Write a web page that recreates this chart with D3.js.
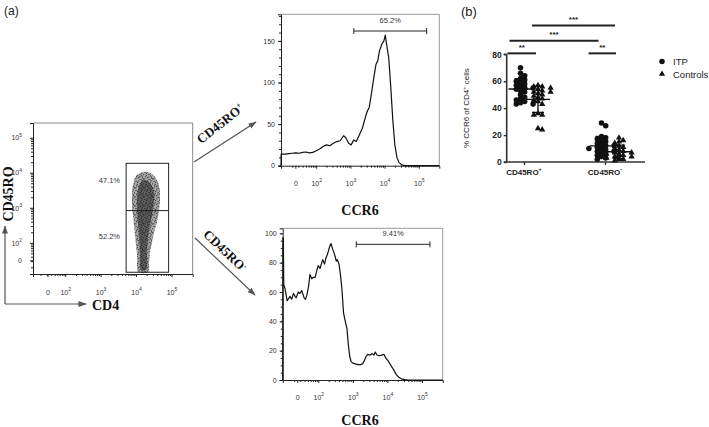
<!DOCTYPE html>
<html><head><meta charset="utf-8">
<script src="https://cdn.jsdelivr.net/npm/d3@7"></script>
<style>body{margin:0;background:#fff}svg{display:block}</style>
</head><body>
<svg id="c" width="709" height="427"></svg>
<script>
// ================= DATA =================
// flow axes are in "display decades": 2 = 10^2, 3 = 10^3 ...
const ccr6Domain = [0.97, 5.6];
const histTickVals = [1.39, 2, 3, 4, 5];
const histTickLabels = ["0", "10^2", "10^3", "10^4", "10^5"];
const dotXDomain = [1.09, 5.6];
const dotYDomain = [1.11, 5.42];
const dotTickVals = [1.5, 2, 3, 4, 5];
const dotTickLabels = ["0", "10^2", "10^3", "10^4", "10^5"];
const posHistYTicks = [0, 50, 100, 150];
const negHistYTicks = [0, 20, 40, 60, 80, 100];

// CCR6 histogram, CD45RO+ cells  [decade position, count]
const ccr6Pos = [[0.97,0],[0.975,14],[1.1,14],[1.2,14.5],[1.3,15],[1.4,15.5],[1.5,15],[1.6,16],[1.7,16.5],[1.8,15.5],[1.9,16],[2.0,18],[2.1,20],[2.2,23],[2.3,25],[2.4,24],[2.5,27],[2.6,29],[2.7,30],[2.8,36],[2.86,34],[2.95,27],[3.02,25],[3.1,31],[3.17,29],[3.25,36],[3.35,45],[3.45,60],[3.5,66],[3.55,70],[3.62,88],[3.7,110],[3.75,122],[3.8,126],[3.85,138],[3.92,146],[3.98,150],[4.02,157],[4.07,143],[4.12,130],[4.18,95],[4.24,55],[4.3,25],[4.36,10],[4.42,4],[4.5,1],[4.6,0],[5.6,0]];
// CCR6 histogram, CD45RO- cells
const ccr6Neg = [[0.97,0],[0.975,97],[0.99,96],[1.0,65],[1.04,62],[1.1,54],[1.18,57],[1.23,55],[1.28,59],[1.33,57],[1.36,56],[1.42,60],[1.47,59],[1.52,61],[1.59,56],[1.63,55],[1.67,58],[1.72,64],[1.76,72],[1.81,69],[1.86,70],[1.91,70],[1.96,75],[2.0,78],[2.05,76],[2.1,80],[2.13,82],[2.18,79],[2.22,83],[2.27,86],[2.33,91],[2.37,93],[2.42,89],[2.49,84],[2.52,81],[2.55,82],[2.6,79],[2.64,72],[2.68,63],[2.73,46],[2.78,40],[2.83,35],[2.87,24],[2.91,16],[2.95,12.5],[3.0,11.5],[3.07,11],[3.15,10.5],[3.22,10.5],[3.28,11],[3.33,13],[3.38,16],[3.43,17.5],[3.5,17],[3.56,18],[3.61,17],[3.65,19],[3.7,17],[3.76,16.5],[3.83,17],[3.9,17.5],[3.95,15],[4.02,13],[4.1,10],[4.18,7],[4.25,4],[4.32,2],[4.4,0.8],[4.5,0.3],[4.6,0],[5.6,0]];

// CD4 x CD45RO event cloud outline and dense core [CD4, CD45RO]
const cloudOuter = [[4.197,4.022],[4.0,3.908],[3.915,3.65],[3.887,3.365],[3.887,3.08],[3.915,2.794],[3.943,2.509],[3.97,2.223],[3.999,1.938],[4.028,1.652],[4.028,1.367],[4.056,1.167],[4.339,1.167],[4.367,1.453],[4.395,1.738],[4.452,2.024],[4.508,2.309],[4.593,2.594],[4.649,2.937],[4.678,3.28],[4.649,3.622],[4.536,3.879],[4.395,3.993]];
const cloudCore = [[4.197,3.793],[4.056,3.508],[4.028,2.937],[4.084,2.223],[4.113,1.652],[4.141,1.224],[4.282,1.224],[4.31,1.795],[4.367,2.366],[4.48,2.937],[4.508,3.451],[4.367,3.736]];
const cd4Gate = [3.72, 4.92, 1.16, 4.27];   // x0, x1, y0, y1
const cd45Split = 2.92;
const cd4GateLabels = ["47.1%", "52.2%"];
const ccr6Gate = [3.1, 5.23];
const ccr6GateLabels = ["65.2%", "9.41%"];

// Panel (b)
const groups = ["CD45RO+", "CD45RO-"];
const seriesNames = ["ITP", "Controls"];
const itpPos  = [70,66,64,62,61,60,59,58,57,56,55,55,54,53,52,50,48,47,46,45,44,43,43];
const ctrlPos = [57,56,56,55,55,54,53,52,52,51,50,49,48,47,46,45,43,36,35,35,25,24];
const itpNeg  = [29,27,19,18,17,16,15,14,13,12,12,11,10,10,9,8,8,7,6,5,4,3,2];
const ctrlNeg = [18,16,15,14,12,11,10,9,8,7,7,6,6,5,5,4,4,3,3,2,2,1];
const bYTicks = [0, 20, 40, 60, 80];
const sigLabels = ["***", "***", "**", "**"];

// ================= DRAW =================
const svg = d3.select("#c");
const SANS = "'Liberation Sans', Arial, sans-serif";
const SERIF = "'Liberation Serif', 'Times New Roman', serif";

const defs = svg.append("defs");
defs.append("marker").attr("id","arr").attr("viewBox","0 0 10 10").attr("refX",9).attr("refY",5)
  .attr("markerWidth",7).attr("markerHeight",7).attr("orient","auto")
  .append("path").attr("d","M0,1.5L10,5L0,8.5Z").attr("fill","#555");
const pat = defs.append("pattern").attr("id","speck").attr("patternUnits","userSpaceOnUse")
  .attr("width",9).attr("height",9);
[[0.5,1],[3.2,0.4],[6.1,1.7],[8.2,3.3],[1.8,3.9],[4.6,3.1],[7.0,5.6],[2.9,6.2],[0.3,7.4],[5.4,7.9],[8.5,8.3],[3.9,8.6],[6.6,0.2],[1.1,5.3],[4.3,5.4],[2.2,1.9],[7.6,7.0],[5.8,4.4]]
  .forEach(p => pat.append("rect").attr("x",p[0]).attr("y",p[1]).attr("width",1).attr("height",1).attr("fill","#222"));

function supText(sel, label, fs) {
  sel.each(function(d, i) {
    const t = d3.select(this);
    const lab = typeof label === "function" ? label(d, i) : label;
    t.text(null);
    const m = lab.split("^");
    t.append("tspan").text(m[0]);
    if (m[1]) t.append("tspan").attr("font-size", fs * 0.72).attr("dy", -fs * 0.55).text(m[1]);
  });
}
function styleAxis(g, fs) {
  g.select(".domain").attr("stroke", "#222").attr("stroke-width", 1);
  g.selectAll(".tick line").attr("stroke", "#222");
  g.selectAll("text").attr("font-family", SANS).attr("font-size", fs).attr("fill", "#333");
}
function minorLog(lo, hi) {
  const v = [];
  for (let d = 1; d <= 4; d++) for (let k = 2; k <= 9; k++) {
    const p = d + Math.log10(k);
    if (p > lo && p < hi) v.push(p);
  }
  return v;
}

// ---- labels (a) (b)
svg.append("text").attr("x", 4).attr("y", 15).attr("font-family", SANS).attr("font-size", 12).attr("fill", "#222").text("(a)");
svg.append("text").attr("x", 461).attr("y", 16).attr("font-family", SANS).attr("font-size", 13).attr("fill", "#222").text("(b)");

// ---- dot plot
(function() {
  const L = 33, R = 192.7, T = 123, B = 274;
  const x = d3.scaleLinear().domain(dotXDomain).range([L, R]);
  const y = d3.scaleLinear().domain(dotYDomain).range([B, T]);
  svg.append("path").attr("d", `M${L},${T}H${R}V${B}`).attr("stroke", "#888").attr("fill", "none");
  const line = d3.line().x(d => x(d[0])).y(d => y(d[1])).curve(d3.curveCatmullRomClosed.alpha(0.5));
  svg.append("path").attr("d", line(cloudOuter)).attr("fill", "#8a8a8a").attr("opacity", 0.75);
  svg.append("path").attr("d", line(cloudOuter)).attr("fill", "url(#speck)");
  svg.append("path").attr("d", line(cloudCore)).attr("fill", "#4f4f4f").attr("opacity", 0.85);
  svg.append("path").attr("d", line(cloudCore)).attr("fill", "url(#speck)");

  const gy = svg.append("g").attr("transform", `translate(${L},0)`)
    .call(d3.axisLeft(y).tickValues(dotTickVals).tickSize(3).tickPadding(8));
  styleAxis(gy, 7);
  supText(gy.selectAll(".tick text"), (d, i) => dotTickLabels[i], 7);
  const gym = svg.append("g").attr("transform", `translate(${L},0)`)
    .call(d3.axisLeft(y).tickValues(minorLog(dotYDomain[0], dotYDomain[1])).tickSize(2).tickFormat(""));
  styleAxis(gym, 7); gym.select(".domain").remove();

  const gx = svg.append("g").attr("transform", `translate(0,${B})`)
    .call(d3.axisBottom(x).tickValues(dotTickVals).tickSize(3).tickPadding(13));
  styleAxis(gx, 7);
  supText(gx.selectAll(".tick text"), (d, i) => dotTickLabels[i], 7);
  const gxm = svg.append("g").attr("transform", `translate(0,${B})`)
    .call(d3.axisBottom(x).tickValues(minorLog(dotXDomain[0], dotXDomain[1])).tickSize(2).tickFormat(""));
  styleAxis(gxm, 7); gxm.select(".domain").remove();

  // gate
  svg.append("rect").attr("x", x(cd4Gate[0])).attr("y", y(cd4Gate[3]))
    .attr("width", x(cd4Gate[1]) - x(cd4Gate[0])).attr("height", y(cd4Gate[2]) - y(cd4Gate[3]))
    .attr("fill", "none").attr("stroke", "#222").attr("stroke-width", 1);
  svg.append("line").attr("x1", x(cd4Gate[0])).attr("x2", x(cd4Gate[1]))
    .attr("y1", y(cd45Split)).attr("y2", y(cd45Split)).attr("stroke", "#222").attr("stroke-width", 1);
  svg.append("text").attr("x", 120).attr("y", 182.5)
    .attr("text-anchor", "end").attr("font-family", SANS).attr("font-size", 7.5).attr("fill", "#333").text(cd4GateLabels[0]);
  svg.append("text").attr("x", 120).attr("y", 238.5)
    .attr("text-anchor", "end").attr("font-family", SANS).attr("font-size", 7.5).attr("fill", "#333").text(cd4GateLabels[1]);

  // axis names with arrows
  svg.append("text").attr("transform", "translate(13,194) rotate(-90)").attr("text-anchor", "middle")
    .attr("font-family", SERIF).attr("font-weight", "bold").attr("font-size", 14).attr("fill", "#111").text("CD45RO");
  svg.append("path").attr("d", "M5,304V226").attr("stroke", "#555").attr("stroke-width", 1.2).attr("marker-end", "url(#arr)");
  svg.append("path").attr("d", "M5,304H86").attr("stroke", "#555").attr("stroke-width", 1.2).attr("marker-end", "url(#arr)");
  svg.append("text").attr("x", 92).attr("y", 310).attr("font-family", SERIF).attr("font-weight", "bold")
    .attr("font-size", 14).attr("fill", "#111").text("CD4");
})();

// ---- diagonal arrows
function diagLabel(cx, cy, ang, sup) {
  const t = svg.append("text").attr("transform", `translate(${cx},${cy}) rotate(${ang})`).attr("text-anchor", "middle")
    .attr("font-family", SERIF).attr("font-weight", "bold").attr("font-size", 13).attr("fill", "#111");
  t.append("tspan").text("CD45RO");
  t.append("tspan").attr("font-size", 8).attr("dy", -5).text(sup);
}
svg.append("path").attr("d", "M194,162L256,122").attr("stroke", "#555").attr("stroke-width", 1.2).attr("marker-end", "url(#arr)");
diagLabel(223, 127, -38, "+");
svg.append("path").attr("d", "M195,238L255,295").attr("stroke", "#555").attr("stroke-width", 1.2).attr("marker-end", "url(#arr)");
diagLabel(222, 254, 44, "-");

// ---- histograms
function hist(cfg) {
  const x = d3.scaleLinear().domain(ccr6Domain).range([cfg.L, cfg.R]);
  const y = d3.scaleLinear().domain([0, cfg.ymax]).range([cfg.B, cfg.T]);
  svg.append("path").attr("d", `M${cfg.L},${cfg.T}H${cfg.R}V${cfg.B}`).attr("stroke", "#999").attr("fill", "none");
  const gy = svg.append("g").attr("transform", `translate(${cfg.L},0)`)
    .call(d3.axisLeft(y).tickValues(cfg.yTicks).tickSize(3).tickPadding(3));
  styleAxis(gy, 7);
  const gym = svg.append("g").attr("transform", `translate(${cfg.L},0)`)
    .call(d3.axisLeft(y).tickValues(d3.range(0, cfg.ymax, cfg.minor)).tickSize(2).tickFormat(""));
  styleAxis(gym, 7); gym.select(".domain").remove();
  const gx = svg.append("g").attr("transform", `translate(0,${cfg.B})`)
    .call(d3.axisBottom(x).tickValues(histTickVals).tickSize(3).tickPadding(12));
  styleAxis(gx, 7);
  supText(gx.selectAll(".tick text"), (d, i) => histTickLabels[i], 7);
  const gxm = svg.append("g").attr("transform", `translate(0,${cfg.B})`)
    .call(d3.axisBottom(x).tickValues(minorLog(ccr6Domain[0], ccr6Domain[1])).tickSize(2).tickFormat(""));
  styleAxis(gxm, 7); gxm.select(".domain").remove();

  svg.append("path").attr("d", d3.line().x(d => x(d[0])).y(d => y(d[1]))(cfg.data))
    .attr("fill", "none").attr("stroke", "#111").attr("stroke-width", 1.2).attr("stroke-linejoin", "round");
  const gy0 = cfg.gateY;
  const g0 = x(ccr6Gate[0]), g1 = x(ccr6Gate[1]);
  svg.append("path").attr("d", `M${g0},${gy0}H${g1}M${g0},${gy0 - 3}V${gy0 + 3}M${g1},${gy0 - 3}V${gy0 + 3}`)
    .attr("stroke", "#222").attr("stroke-width", 1).attr("fill", "none");
  svg.append("text").attr("x", (g0 + g1) / 2).attr("y", gy0 - 8).attr("text-anchor", "middle")
    .attr("font-family", SANS).attr("font-size", 7.5).attr("fill", "#333").text(cfg.gateLabel);
  svg.append("text").attr("x", 360).attr("y", cfg.nameY).attr("text-anchor", "middle")
    .attr("font-family", SERIF).attr("font-weight", "bold").attr("font-size", 14).attr("fill", "#111").text("CCR6");
}
hist({L: 281, R: 439.3, T: 14.3, B: 165.7, ymax: 182, yTicks: posHistYTicks, minor: 10, data: ccr6Pos,
  gateY: 31, gateLabel: ccr6GateLabels[0], nameY: 215});
hist({L: 282.7, R: 442.7, T: 228.3, B: 380, ymax: 103.4, yTicks: negHistYTicks, minor: 5, data: ccr6Neg,
  gateY: 244.3, gateLabel: ccr6GateLabels[1], nameY: 425});

// ---- panel (b)
(function() {
  const L = 506.7, R = 645, T = 54.3, B = 162;
  const y = d3.scaleLinear().domain([0, 80]).range([B, T]);
  const xg = d3.scalePoint().domain(groups).range([524, 605]);
  const sOff = {ITP: -3.5, Controls: 14};
  const sets = [
    {g: groups[0], s: "ITP", v: itpPos}, {g: groups[0], s: "Controls", v: ctrlPos},
    {g: groups[1], s: "ITP", v: itpNeg}, {g: groups[1], s: "Controls", v: ctrlNeg}];

  const gy = svg.append("g").attr("transform", `translate(${L},0)`)
    .call(d3.axisLeft(y).tickValues(bYTicks).tickSize(3).tickPadding(2));
  gy.select(".domain").attr("stroke", "#333").attr("stroke-width", 1.6).attr("d", `M-3,${y(80)}H0V${B}H-3`);
  gy.selectAll(".tick line").attr("stroke", "#333").attr("stroke-width", 1.4);
  gy.selectAll("text").attr("font-family", SANS).attr("font-size", 8.5).attr("font-weight", "bold").attr("fill", "#222");
  const gx = svg.append("g").attr("transform", `translate(0,${B})`)
    .call(d3.axisBottom(xg).tickSize(3).tickPadding(2).tickFormat(""));
  gx.select(".domain").attr("stroke", "#333").attr("stroke-width", 1.6).attr("d", `M${L},0H${R}`);
  gx.selectAll(".tick line").attr("stroke", "#333").attr("stroke-width", 1.4);
  groups.forEach(g => {
    const t = svg.append("text").attr("x", xg(g)).attr("y", B + 12.5).attr("text-anchor", "middle")
      .attr("font-family", SANS).attr("font-size", 8).attr("font-weight", "bold").attr("fill", "#222");
    t.append("tspan").text(g.slice(0, -1));
    t.append("tspan").attr("font-size", 5.5).attr("dy", -3.5).text(g.slice(-1));
  });
  const yl = svg.append("text").attr("transform", `translate(469,${(T + B) / 2}) rotate(-90)`).attr("text-anchor", "middle")
    .attr("font-family", SANS).attr("font-size", 8).attr("fill", "#222");
  yl.append("tspan").text("% CCR6 of CD4");
  yl.append("tspan").attr("font-size", 5.5).attr("dy", -3.5).text("+");
  yl.append("tspan").attr("dy", 3.5).text(" cells");

  const sym = {ITP: d3.symbol(d3.symbolCircle, 24), Controls: d3.symbol(d3.symbolTriangle, 17)};
  const step = 4.2, maxK = 6;
  sets.forEach(set => {
    const cx = xg(set.g) + sOff[set.s];
    const placed = [];
    const sorted = set.v.slice().sort((a, b) => b - a);
    sorted.forEach(v => {
      const py = y(v);
      let best = null, bestC = Infinity;
      for (let k = 0; k <= maxK; k++) {
        const off = k === 0 ? 0 : (k % 2 ? 1 : -1) * Math.ceil(k / 2) * step;
        const px = cx + off;
        const c = placed.filter(p => Math.abs(p[0] - px) < step && Math.abs(p[1] - py) < 3.4).length;
        if (c < bestC) { bestC = c; best = px; }
        if (c === 0) break;
      }
      placed.push([best, py]);
    });
    svg.append("g").selectAll("path").data(placed).join("path")
      .attr("transform", d => `translate(${d[0]},${d[1]})`).attr("d", sym[set.s]()).attr("fill", "#111");
    const m = d3.mean(set.v), sd = d3.deviation(set.v);
    svg.append("path").attr("d",
      `M${cx - 12},${y(m)}H${cx + 12}M${cx},${y(m + sd)}V${y(Math.max(0, m - sd))}M${cx - 6},${y(m + sd)}H${cx + 6}M${cx - 6},${y(Math.max(0, m - sd))}H${cx + 6}`)
      .attr("stroke", "#111").attr("stroke-width", 1.4).attr("fill", "none");
  });

  // significance bars
  const sig = [
    {a: [0, "Controls", -6], b: [1, "Controls", -4], lv: 101.3},
    {a: [0, "ITP", -11], b: [1, "ITP", -3], lv: 90.1},
    {a: [0, "ITP", -13], b: [0, "Controls", -2], lv: 80.7},
    {a: [1, "ITP", -13], b: [1, "Controls", -3], lv: 80.7}];
  sig.forEach((s, i) => {
    const x1 = xg(groups[s.a[0]]) + sOff[s.a[1]] + s.a[2];
    const x2 = xg(groups[s.b[0]]) + sOff[s.b[1]] + s.b[2];
    svg.append("line").attr("x1", x1).attr("x2", x2).attr("y1", y(s.lv)).attr("y2", y(s.lv))
      .attr("stroke", "#222").attr("stroke-width", 2);
    svg.append("text").attr("x", (x1 + x2) / 2).attr("y", y(s.lv) - 3.5).attr("text-anchor", "middle")
      .attr("font-family", SANS).attr("font-size", 8).attr("font-weight", "bold").attr("fill", "#222").text(sigLabels[i]);
  });

  // legend
  seriesNames.forEach((s, i) => {
    svg.append("path").attr("transform", `translate(662,${61.5 + i * 12.5})`).attr("d", sym[s]()).attr("fill", "#111");
    svg.append("text").attr("x", 673).attr("y", 65 + i * 12.5).attr("font-family", SANS).attr("font-size", 9.5)
      .attr("fill", "#222").text(s);
  });
})();
</script>
</body></html>
